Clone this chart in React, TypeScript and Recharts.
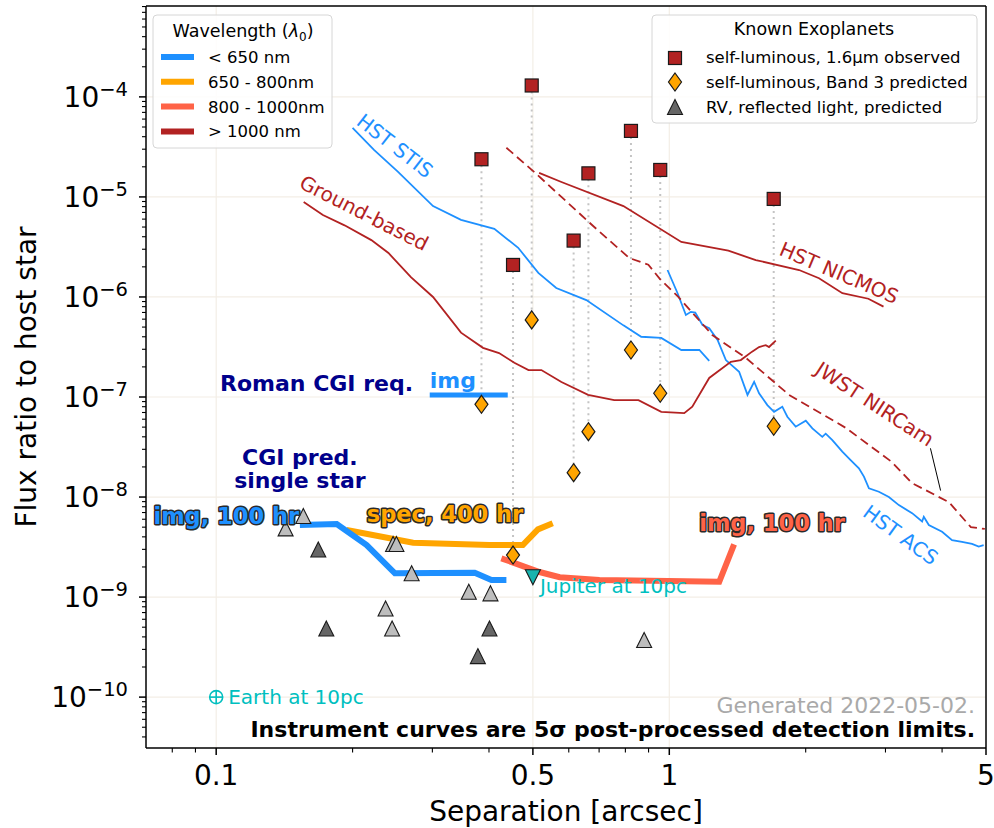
import React from "react";
import {
  ComposedChart,
  Line,
  Scatter,
  XAxis,
  YAxis,
  CartesianGrid,
  ReferenceLine,
  ReferenceDot,
} from "recharts";

const FONT = "'DejaVu Sans', Verdana, sans-serif";
const BLUE = "#1E90FF";
const ORANGE = "#FFA500";
const TOMATO = "#FF6347";
const FIREBRICK = "#B22222";
const NAVY = "#00008B";
const CYAN = "#00BFBF";

// instrument contrast curves: [separation arcsec, flux ratio]
const hstStis: [number, number][] = [
  [0.2, 4.9e-5], [0.223, 2.95e-5], [0.252, 1.78e-5], [0.301, 8.1e-6], [0.347, 5.9e-6],
  [0.411, 4.8e-6], [0.464, 3.1e-6], [0.514, 1.74e-6], [0.563, 1.23e-6], [0.656, 9.3e-7],
  [0.792, 5.2e-7], [0.867, 4.0e-7], [0.96, 3.9e-7], [1.063, 2.95e-7], [1.165, 2.95e-7],
  [1.225, 2.3e-7],
];
const groundBased: [number, number][] = [
  [0.156, 8.9e-6], [0.172, 6.6e-6], [0.192, 5.2e-6], [0.22, 3.7e-6], [0.24, 2.75e-6],
  [0.269, 1.58e-6], [0.301, 1.0e-6], [0.347, 4.4e-7], [0.388, 3.1e-7], [0.421, 2.75e-7],
  [0.455, 2.2e-7], [0.489, 1.86e-7], [0.522, 1.86e-7], [0.578, 1.41e-7], [0.662, 1.05e-7],
  [0.756, 9.3e-8], [0.855, 9.3e-8], [0.96, 7.1e-8], [1.079, 6.9e-8], [1.124, 8.0e-8],
  [1.225, 1.55e-7], [1.367, 2.25e-7], [1.438, 2.34e-7], [1.523, 2.84e-7], [1.578, 3.16e-7],
  [1.633, 3.3e-7], [1.66, 3.16e-7], [1.718, 3.66e-7],
];
const hstNicmos: [number, number][] = [
  [0.516, 1.74e-5], [0.578, 1.41e-5], [0.792, 8.1e-6], [1.063, 3.55e-6], [1.35, 2.9e-6],
  [1.552, 2.34e-6], [1.934, 1.86e-6], [2.14, 1.54e-6], [2.41, 1.09e-6], [2.75, 9.6e-7],
  [2.97, 8.0e-7],
];
const jwstNircam: [number, number][] = [
  [0.437, 3.1e-5], [0.503, 1.78e-5], [0.578, 1.0e-5], [0.683, 5.0e-6], [0.816, 2.45e-6],
  [0.899, 2.1e-6], [0.955, 1.5e-6], [1.047, 1.0e-6], [1.244, 4.17e-7], [1.478, 2.45e-7],
  [1.838, 1.05e-7], [2.454, 4.9e-8], [3.099, 2.24e-8], [3.43, 1.38e-8], [4.14, 8.9e-9],
  [4.63, 5.0e-9], [4.97, 4.8e-9],
];
const hstAcs: [number, number][] = [
  [0.991, 1.86e-6], [1.043, 1.09e-6], [1.088, 6.6e-7], [1.116, 7.1e-7], [1.141, 6.97e-7],
  [1.184, 5.25e-7], [1.225, 4.86e-7], [1.278, 3.72e-7], [1.333, 2.34e-7], [1.426, 1.79e-7],
  [1.488, 1.05e-7], [1.539, 1.42e-7], [1.578, 1.09e-7], [1.646, 8.3e-8], [1.703, 7.1e-8],
  [1.776, 8.0e-8], [1.822, 6.35e-8], [1.901, 5.05e-8], [2.001, 5.8e-8], [2.069, 4.86e-8],
  [2.176, 4.0e-8], [2.214, 4.3e-8], [2.29, 3.7e-8], [2.409, 2.84e-8], [2.513, 2.34e-8],
  [2.621, 1.94e-8], [2.689, 1.6e-8], [2.758, 1.22e-8], [2.901, 1.13e-8], [3.052, 1.0e-8],
  [3.211, 8.3e-9], [3.435, 6.9e-9], [3.614, 5.7e-9], [3.645, 6.35e-9], [3.739, 5.25e-9],
  [4.0, 4.5e-9], [4.207, 3.7e-9], [4.426, 3.57e-9], [4.657, 3.4e-9], [4.818, 3.2e-9],
  [4.941, 3.3e-9],
];

// Roman CGI predicted and required curves
const cgiImgBlue: [number, number][] = [
  [0.153, 5.25e-9], [0.1845, 5.37e-9], [0.2148, 3.31e-9], [0.248, 1.73e-9], [0.372, 1.75e-9],
  [0.405, 1.48e-9], [0.437, 1.48e-9],
];
const cgiSpecOrange: [number, number][] = [
  [0.194, 4.68e-9], [0.272, 3.49e-9], [0.401, 3.31e-9], [0.475, 3.31e-9], [0.513, 4.75e-9],
  [0.553, 5.46e-9],
];
const cgiImgRed: [number, number][] = [
  [0.426, 2.44e-9], [0.517, 1.78e-9], [0.573, 1.58e-9], [0.701, 1.48e-9], [1.289, 1.42e-9],
  [1.39, 3.36e-9],
];
const romanReqImg: [number, number][] = [[0.296, 1.05e-7], [0.44, 1.05e-7]];
const nircamPointer: [number, number][] = [[3.77, 3.07e-8], [3.97, 1.16e-8]];

// known self-luminous planets
const planetSep = [0.385, 0.497, 0.452, 0.615, 0.663, 0.823, 0.955, 1.7];
const planetHband = [2.38e-5, 1.3e-4, 2.09e-6, 3.66e-6, 1.72e-5, 4.57e-5, 1.86e-5, 9.55e-6];
const planetBand3 = [8.45e-8, 5.9e-7, 2.63e-9, 1.75e-8, 4.5e-8, 2.95e-7, 1.09e-7, 5.1e-8];

// RV planets, reflected light
const rvSep = [0.1423, 0.1557, 0.168, 0.2457, 0.2499, 0.27, 0.361, 0.403, 0.175, 0.2365, 0.2445, 0.401, 0.378, 0.88];
const rvFlux = [4.86e-9, 6.46e-9, 2.99e-9, 3.39e-9, 3.39e-9, 1.73e-9, 1.13e-9, 1.09e-9, 4.86e-10, 7.7e-10, 4.86e-10, 4.86e-10, 2.57e-10, 3.72e-10];
const rvDark = [false, false, true, false, false, false, false, false, true, false, false, true, true, false];

const earthPoint = [{ x: 0.1, y: 1e-10 }];
const jupiterPoint = [{ x: 0.5, y: 1.58e-9 }];

// axes
const X_DOMAIN = [0.07, 5];
const Y_DOMAIN = [3.1e-11, 8.1e-4];
const xMajorTicks = [0.1, 0.5, 1, 5];
const xTickLabels = ["0.1", "0.5", "1", "5"];
const xMinorTicks = [0.08, 0.09, 0.2, 0.3, 0.4, 0.6, 0.7, 0.8, 0.9, 2, 3, 4];
const yExponents = [-4, -5, -6, -7, -8, -9, -10];
const yMinorMultipliers = [2, 3, 4, 5, 6, 7, 8, 9];

const yMajorTicks = yExponents.map((e) => Number(`1e${e}`));
const yMinorTicks: number[] = [];
for (let e = -11; e <= -4; e++) {
  yMinorMultipliers.forEach((m) => {
    const v = Number(`${m}e${e}`);
    if (v >= Y_DOMAIN[0] && v <= Y_DOMAIN[1]) yMinorTicks.push(v);
  });
}
const yTicks = [...yMinorTicks, ...yMajorTicks].sort((a, b) => a - b);
const xTicks = [...xMinorTicks, ...xMajorTicks].sort((a, b) => a - b);

const toPts = (arr: [number, number][]) => arr.map(([x, y]) => ({ x, y }));
const rvLight = rvSep.map((x, i) => ({ x, y: rvFlux[i] })).filter((_, i) => !rvDark[i]);
const rvDarkPts = rvSep.map((x, i) => ({ x, y: rvFlux[i] })).filter((_, i) => rvDark[i]);
const squares = planetSep.map((x, i) => ({ x, y: planetHband[i] }));
const diamonds = planetSep.map((x, i) => ({ x, y: planetBand3[i] }));

const XTick = (props: any) => {
  const { x, y, payload } = props;
  const idx = xMajorTicks.findIndex((t) => Math.abs(t - payload.value) < 1e-9);
  const major = idx >= 0;
  return (
    <g>
      <line x1={x} x2={x} y1={y} y2={y + (major ? 7 : 4.5)} stroke="#000" strokeWidth={major ? 1.5 : 1.1} />
      {major && (
        <text x={x} y={y + 37} textAnchor="middle" fontSize={28} fontFamily={FONT} fill="#000">
          {xTickLabels[idx]}
        </text>
      )}
    </g>
  );
};

const YTick = (props: any) => {
  const { x, y, payload } = props;
  const lg = Math.log10(payload.value);
  const e = Math.round(lg);
  const major = Math.abs(lg - e) < 1e-6;
  return (
    <g>
      <line x1={x - (major ? 7 : 4)} x2={x} y1={y} y2={y} stroke="#000" strokeWidth={major ? 1.5 : 1.1} />
      {major && (
        <text x={x - 18} y={y + 10} textAnchor="end" fontSize={28} fontFamily={FONT} fill="#000">
          10
          <tspan dy={-11} fontSize={19.5}>{`\u2212${-e}`}</tspan>
        </text>
      )}
    </g>
  );
};

const YLabel = (props: any) => {
  const vb = props.viewBox;
  const cy = vb.y + vb.height / 2;
  return (
    <text x={36} y={cy} transform={`rotate(-90 36 ${cy})`} textAnchor="middle" fontSize={28} fontFamily={FONT} fill="#000">
      Flux ratio to host star
    </text>
  );
};

const SquareMark = (p: any) => (
  <rect x={p.cx - 6.5} y={p.cy - 6.5} width={13} height={13} fill={FIREBRICK} stroke="#1a1a1a" strokeWidth={1.2} />
);
const DiamondMark = (p: any) => (
  <polygon
    points={`${p.cx},${p.cy - 9} ${p.cx + 6.5},${p.cy} ${p.cx},${p.cy + 9} ${p.cx - 6.5},${p.cy}`}
    fill={ORANGE}
    stroke="#1a1a1a"
    strokeWidth={1.2}
  />
);
const triangle = (cx: number, cy: number, fill: string) => (
  <polygon
    points={`${cx},${cy - 7.5} ${cx + 7.5},${cy + 7.5} ${cx - 7.5},${cy + 7.5}`}
    fill={fill}
    stroke="#1a1a1a"
    strokeWidth={1.1}
  />
);
const LightTri = (p: any) => triangle(p.cx, p.cy, "#BDBDBD");
const DarkTri = (p: any) => triangle(p.cx, p.cy, "#666666");
const JupiterMark = (p: any) => (
  <g>
    <polygon
      points={`${p.cx - 7.5},${p.cy - 7.5} ${p.cx + 7.5},${p.cy - 7.5} ${p.cx},${p.cy + 7.5}`}
      fill="#17B3AE"
      stroke="#1a1a1a"
      strokeWidth={1.1}
    />
    <text x={p.cx + 7} y={p.cy + 16} fontSize={20} fontFamily={FONT} fill={CYAN}>
      Jupiter at 10pc
    </text>
  </g>
);
const EarthMark = (p: any) => (
  <g stroke={CYAN} strokeWidth={1.6} fill="none">
    <circle cx={p.cx} cy={p.cy} r={6.5} />
    <line x1={p.cx - 6.5} x2={p.cx + 6.5} y1={p.cy} y2={p.cy} />
    <line x1={p.cx} x2={p.cx} y1={p.cy - 6.5} y2={p.cy + 6.5} />
    <text x={p.cx + 12} y={p.cy + 7} fontSize={20} fontFamily={FONT} fill={CYAN} stroke="none">
      Earth at 10pc
    </text>
  </g>
);

type Note = {
  text: string[];
  x: number;
  y: number;
  color: string;
  size: number;
  bold?: boolean;
  anchor?: "start" | "middle" | "end";
  angle?: number;
  outline?: boolean;
};

const notes: Note[] = [
  { text: ["HST STIS"], x: 0.248, y: 3.24e-5, color: BLUE, size: 20, anchor: "middle", angle: 38 },
  { text: ["Ground-based"], x: 0.212, y: 6.9e-6, color: FIREBRICK, size: 20, anchor: "middle", angle: 27 },
  { text: ["HST NICMOS"], x: 2.37, y: 1.74e-6, color: FIREBRICK, size: 20, anchor: "middle", angle: 23 },
  { text: ["JWST NIRCam"], x: 2.84, y: 8.5e-8, color: FIREBRICK, size: 20, anchor: "middle", angle: 33 },
  { text: ["HST ACS"], x: 3.24, y: 4.17e-9, color: BLUE, size: 20, anchor: "middle", angle: 36 },
  { text: ["Roman CGI req."], x: 0.272, y: 1.15e-7, color: NAVY, size: 22, bold: true, anchor: "end" },
  { text: ["img"], x: 0.296, y: 1.23e-7, color: BLUE, size: 22, bold: true, anchor: "start" },
  { text: ["CGI pred.", "single star"], x: 0.153, y: 2.09e-8, color: NAVY, size: 22, bold: true, anchor: "middle" },
  { text: ["img, 100 hr"], x: 0.0727, y: 5.37e-9, color: BLUE, size: 22.5, bold: true, anchor: "start", outline: true },
  { text: ["spec, 400 hr"], x: 0.215, y: 5.6e-9, color: ORANGE, size: 22.5, bold: true, anchor: "start", outline: true },
  { text: ["img, 100 hr"], x: 1.164, y: 4.57e-9, color: TOMATO, size: 22.5, bold: true, anchor: "start", outline: true },
];

const renderNote = (n: Note) => (p: any) => {
  const rot = n.angle ? `rotate(${n.angle} ${p.cx} ${p.cy})` : undefined;
  return (
    <text
      x={p.cx}
      y={p.cy}
      transform={rot}
      textAnchor={n.anchor}
      dominantBaseline={n.angle ? "central" : undefined}
      fontSize={n.size}
      fontFamily={FONT}
      fontWeight={n.bold ? "bold" : "normal"}
      fill={n.color}
      stroke={n.outline ? "#2a2a2a" : "none"}
      strokeWidth={n.outline ? 3 : 0}
      strokeLinejoin="round"
      paintOrder="stroke"
    >
      {n.text.map((t, i) => (
        <tspan key={i} x={p.cx} dy={i === 0 ? 0 : n.size * 1.05}>
          {t}
        </tspan>
      ))}
    </text>
  );
};

const wavelengthLegend = [
  { label: "< 650 nm", color: BLUE },
  { label: "650 - 800nm", color: ORANGE },
  { label: "800 - 1000nm", color: TOMATO },
  { label: "> 1000 nm", color: FIREBRICK },
];
const planetLegend = ["self-luminous, 1.6\u00b5m observed", "self-luminous, Band 3 predicted", "RV, reflected light, predicted"];

const Overlay = () => (
  <svg width={994} height={828} style={{ position: "absolute", left: 0, top: 0, pointerEvents: "none" }}>
    <g fontFamily={FONT}>
      <rect x={153} y={15} width={179} height={133} rx={4} fill="#fff" fillOpacity={0.85} stroke="#d6d6d6" />
      <text x={243} y={37} textAnchor="middle" fontSize={17.5} fill="#000">
        Wavelength (<tspan fontStyle="italic">λ</tspan>
        <tspan dy={4} fontSize={12}>0</tspan>
        <tspan dy={-4}>)</tspan>
      </text>
      {wavelengthLegend.map((w, i) => (
        <g key={w.label}>
          <line x1={161} x2={194} y1={57 + i * 24.8} y2={57 + i * 24.8} stroke={w.color} strokeWidth={6} />
          <text x={208} y={63 + i * 24.8} fontSize={16.5} fill="#000">
            {w.label}
          </text>
        </g>
      ))}
      <rect x={652} y={15} width={325} height={108} rx={4} fill="#fff" fillOpacity={0.85} stroke="#d6d6d6" />
      <text x={814} y={35} textAnchor="middle" fontSize={17.5} fill="#000">
        Known Exoplanets
      </text>
      {SquareMark({ cx: 675, cy: 58 })}
      {DiamondMark({ cx: 675, cy: 82 })}
      {triangle(675, 107, "#666666")}
      {planetLegend.map((t, i) => (
        <text key={t} x={706} y={63 + i * 25} fontSize={16.5} fill="#000">
          {t}
        </text>
      ))}
      <text x={975} y={713} textAnchor="end" fontSize={22} fill="#A9A9A9">
        Generated 2022-05-02.
      </text>
      <text x={975} y={737} textAnchor="end" fontSize={22} fontWeight="bold" fill="#000">
        Instrument curves are 5σ post-processed detection limits.
      </text>
    </g>
  </svg>
);

const lineStyle = { dot: false, activeDot: false, isAnimationActive: false, type: "linear" as const };

export default function App() {
  return (
    <div style={{ position: "absolute", left: 0, top: 0, width: 994, height: 828, background: "#fff" }}>
      <ComposedChart width={994} height={828} margin={{ top: 6, right: 8, bottom: 0, left: 0 }}>
        <CartesianGrid horizontalValues={yMajorTicks} verticalValues={[0.1, 0.5, 1]} stroke="#F3EEE6" strokeWidth={1.2} />
        <XAxis
          dataKey="x"
          type="number"
          scale="log"
          domain={X_DOMAIN}
          allowDataOverflow
          ticks={xTicks}
          interval={0}
          tick={<XTick />}
          tickLine={false}
          tickSize={0}
          tickMargin={0}
          height={80}
          axisLine={{ stroke: "#000", strokeWidth: 1.5 }}
          label={{ value: "Separation [arcsec]", position: "insideBottom", offset: 7, fontSize: 28, fill: "#000", fontFamily: FONT }}
        />
        <YAxis
          dataKey="y"
          type="number"
          scale="log"
          domain={Y_DOMAIN}
          allowDataOverflow
          ticks={yTicks}
          interval={0}
          tick={<YTick />}
          tickLine={false}
          tickSize={0}
          tickMargin={0}
          width={146}
          axisLine={{ stroke: "#000", strokeWidth: 1.5 }}
          label={YLabel}
        />
        <ReferenceLine y={Y_DOMAIN[1]} stroke="#000" strokeWidth={1.5} />
        <ReferenceLine x={X_DOMAIN[1]} stroke="#000" strokeWidth={1.5} />

        {planetSep.map((x, i) => (
          <Line
            key={`conn${i}`}
            data={[{ x, y: planetHband[i] }, { x, y: planetBand3[i] }]}
            dataKey="y"
            stroke="#C4C4C4"
            strokeWidth={2}
            strokeDasharray="2 4"
            {...lineStyle}
          />
        ))}

        <Line data={toPts(hstStis)} dataKey="y" stroke={BLUE} strokeWidth={1.8} {...lineStyle} />
        <Line data={toPts(hstAcs)} dataKey="y" stroke={BLUE} strokeWidth={1.8} {...lineStyle} />
        <Line data={toPts(groundBased)} dataKey="y" stroke={FIREBRICK} strokeWidth={1.8} {...lineStyle} />
        <Line data={toPts(hstNicmos)} dataKey="y" stroke={FIREBRICK} strokeWidth={1.8} {...lineStyle} />
        <Line data={toPts(jwstNircam)} dataKey="y" stroke={FIREBRICK} strokeWidth={1.8} strokeDasharray="9 5" {...lineStyle} />
        <Line data={toPts(nircamPointer)} dataKey="y" stroke="#000" strokeWidth={1} {...lineStyle} />

        <Line data={toPts(cgiSpecOrange)} dataKey="y" stroke={ORANGE} strokeWidth={6} {...lineStyle} />
        <Line data={toPts(cgiImgBlue)} dataKey="y" stroke={BLUE} strokeWidth={6} {...lineStyle} />
        <Line data={toPts(cgiImgRed)} dataKey="y" stroke={TOMATO} strokeWidth={6} {...lineStyle} />
        <Line data={toPts(romanReqImg)} dataKey="y" stroke={BLUE} strokeWidth={5} {...lineStyle} />

        <Scatter data={rvLight} shape={LightTri} isAnimationActive={false} />
        <Scatter data={rvDarkPts} shape={DarkTri} isAnimationActive={false} />
        <Scatter data={jupiterPoint} shape={JupiterMark} isAnimationActive={false} />
        <Scatter data={earthPoint} shape={EarthMark} isAnimationActive={false} />
        <Scatter data={squares} shape={SquareMark} isAnimationActive={false} />
        <Scatter data={diamonds} shape={DiamondMark} isAnimationActive={false} />

        {notes.map((n, i) => (
          <ReferenceDot key={`note${i}`} x={n.x} y={n.y} r={0} ifOverflow="visible" shape={renderNote(n)} />
        ))}
      </ComposedChart>
      <Overlay />
    </div>
  );
}
